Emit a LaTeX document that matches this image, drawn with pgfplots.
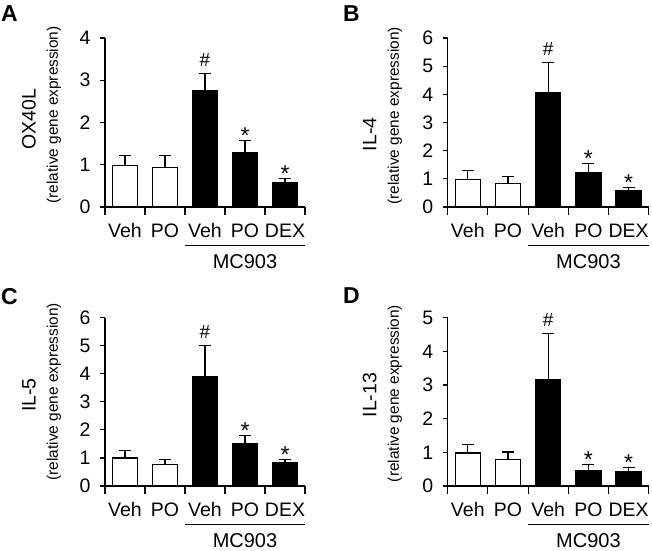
\documentclass[border=0pt]{standalone}
\usepackage{fontspec}
\setmainfont{Liberation Sans}
\usepackage{pgfplots}
\pgfplotsset{compat=1.18}

\pgfplotsset{
  panel/.style={
    scale only axis,
    xmin=-0.5, xmax=4.5, ymin=0,
    axis x line=bottom, axis y line=left,
    axis line style={-, line width=1.1pt, black},
    tick align=outside,
    xtick={0,...,4}, xticklabels={Veh,PO,Veh,PO,DEX},
    minor xtick={-0.5,0.5,...,4.5},
    major tick length=5pt, minor tick length=8pt,
    every major x tick/.append style={draw=none},
    every tick/.append style={line width=1.1pt, black},
    tick label style={font=\fontsize{19.5}{22}\selectfont},
    xticklabel style={anchor=base, yshift=-25pt},
    yticklabel style={xshift=-6pt},
    /pgf/number format/assume math mode=true,
    clip=false,
    ybar, bar width=0.625,
    ylabel style={anchor=center, font=\fontsize{19.5}{22}\selectfont},
  },
  wbar/.style={ybar, bar shift=0pt, fill=white, draw=black, line width=1.1pt,
    error bars/.cd, y dir=plus, y explicit,
    error bar style={line width=1.1pt, black},
    error mark options={rotate=90, mark size=6pt, line width=1.1pt, black}},
  bbar/.style={ybar, bar shift=0pt, fill=black, draw=black, line width=1.1pt,
    error bars/.cd, y dir=plus, y explicit,
    error bar style={line width=1.1pt, black},
    error mark options={rotate=90, mark size=6pt, line width=1.1pt, black}},
}
\newcommand{\rel}[2]{\node[rotate=90, anchor=center, inner sep=0, font=\fontsize{15.4}{18}\selectfont] at (axis description cs:#1,#2) {(relative gene expression)};}
\newcommand{\mcline}{%
  \draw[line width=1pt] ([yshift=-38.5pt]axis cs:1.5,0) -- ([yshift=-38.5pt]axis cs:4.5,0);
  \node[anchor=base, inner sep=0, font=\fontsize{20}{22}\selectfont] at ([yshift=-61.3pt]axis cs:3,0) {MC903};}
\newcommand{\hashmark}[2]{\node[anchor=south, inner sep=0, yshift=6.5pt, font=\fontsize{19}{22}\selectfont] at (axis cs:#1,#2) {\#};}
\newcommand{\starmark}[2]{\node[anchor=base, inner sep=0, yshift=-3pt, font=\fontsize{23}{24}\selectfont] at (axis cs:#1,#2) {*};}

\begin{document}
\begin{tikzpicture}
\useasboundingbox (0,0) rectangle (652pt,550pt);

% Panel A
\begin{axis}[panel, at={(105pt,343pt)}, anchor=south west, width=200pt, height=169pt,
  ymax=4, ytick={0,1,2,3,4},
  ylabel={OX40L}, ylabel style={at={(axis description cs:-0.38,0.52)}}]
\addplot[wbar] coordinates {(0,0.99) +- (0,0.22) (1,0.935) +- (0,0.275)};
\addplot[bbar] coordinates {(2,2.76) +- (0,0.41) (3,1.30) +- (0,0.28) (4,0.57) +- (0,0.10)};
\hashmark{2}{3.17}
\starmark{3}{1.58}
\starmark{4}{0.67}
\mcline
\rel{-0.255}{0.545}
\end{axis}

% Panel B
\begin{axis}[panel, at={(447.7pt,343pt)}, anchor=south west, width=201pt, height=169pt,
  ymax=6, ytick={0,1,2,3,4,5,6},
  ylabel={IL-4}, ylabel style={at={(axis description cs:-0.388,0.43)}}]
\addplot[wbar] coordinates {(0,0.99) +- (0,0.29) (1,0.84) +- (0,0.23)};
\addplot[bbar] coordinates {(2,4.06) +- (0,1.08) (3,1.21) +- (0,0.33) (4,0.59) +- (0,0.09)};
\hashmark{2}{5.14}
\starmark{3}{1.54}
\starmark{4}{0.68}
\mcline
\rel{-0.263}{0.54}
\end{axis}

% Panel C
\begin{axis}[panel, at={(105pt,64pt)}, anchor=south west, width=200pt, height=168.3pt,
  ymax=6, ytick={0,1,2,3,4,5,6},
  ylabel={IL-5}, ylabel style={at={(axis description cs:-0.38,0.54)}}]
\addplot[wbar] coordinates {(0,1.00) +- (0,0.26) (1,0.77) +- (0,0.19)};
\addplot[bbar] coordinates {(2,3.90) +- (0,1.11) (3,1.51) +- (0,0.28) (4,0.83) +- (0,0.13)};
\hashmark{2}{5.01}
\starmark{3}{1.79}
\starmark{4}{0.96}
\mcline
\rel{-0.255}{0.56}
\end{axis}

% Panel D
\begin{axis}[panel, at={(447.7pt,64pt)}, anchor=south west, width=201pt, height=168.3pt,
  ymax=5, ytick={0,1,2,3,4,5},
  ylabel={IL-13}, ylabel style={at={(axis description cs:-0.388,0.54)}}]
\addplot[wbar] coordinates {(0,0.98) +- (0,0.26) (1,0.80) +- (0,0.21)};
\addplot[bbar] coordinates {(2,3.17) +- (0,1.36) (3,0.45) +- (0,0.20) (4,0.42) +- (0,0.12)};
\hashmark{2}{4.53}
\starmark{3}{0.65}
\starmark{4}{0.54}
\mcline
\rel{-0.263}{0.55}
\end{axis}

\node[anchor=north west, inner sep=0, font=\bfseries\fontsize{23}{25}\selectfont] at (1pt,545pt) {A};
\node[anchor=north west, inner sep=0, font=\bfseries\fontsize{23}{25}\selectfont] at (343pt,545pt) {B};
\node[anchor=north west, inner sep=0, font=\bfseries\fontsize{23}{25}\selectfont] at (1pt,262pt) {C};
\node[anchor=north west, inner sep=0, font=\bfseries\fontsize{23}{25}\selectfont] at (343pt,263pt) {D};
\end{tikzpicture}
\end{document}
